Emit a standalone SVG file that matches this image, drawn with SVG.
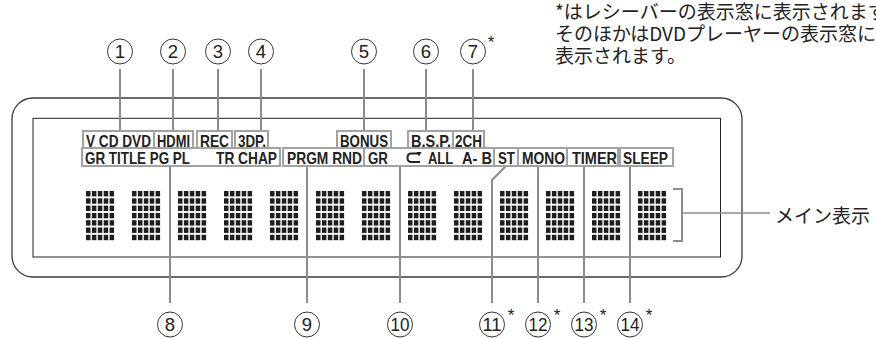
<svg xmlns="http://www.w3.org/2000/svg" xmlns:xlink="http://www.w3.org/1999/xlink" width="876" height="339" viewBox="0 0 876 339">
<style>
.frame{fill:none;stroke:#3a3a3a;stroke-width:1.3}
.inner{fill:none;stroke:#222;stroke-width:1}
.box{fill:#fff;stroke:#a2a2a2;stroke-width:2}
.lbl{font-family:"Liberation Sans",Arial,sans-serif;font-weight:bold;font-size:16.5px;fill:#222}
.lead{fill:none;stroke:#8c8c8c;stroke-width:2}
.circ{fill:#fff;stroke:#333;stroke-width:1}
.num{font-family:"Liberation Sans",Arial,sans-serif;font-size:18.5px;fill:#222;text-anchor:middle}
.ast{font-family:"Liberation Sans",Arial,sans-serif;font-size:17px;fill:#222;text-anchor:middle}
.jp{font-family:"Noto Sans CJK JP","Noto Sans",sans-serif;font-size:19px;fill:#222}
.dot{fill:#1e1e1e}
</style>
<defs>
<g id="dotrow">
<rect class="dot" x="0" y="0" width="4.5" height="5.4"/>
<rect class="dot" x="5.9" y="0" width="4.5" height="5.4"/>
<rect class="dot" x="11.8" y="0" width="4.5" height="5.4"/>
<rect class="dot" x="17.7" y="0" width="4.5" height="5.4"/>
<rect class="dot" x="23.6" y="0" width="4.5" height="5.4"/>
</g>
<g id="blk">
<use href="#dotrow" y="0"/>
<use href="#dotrow" y="7.3"/>
<use href="#dotrow" y="14.6"/>
<use href="#dotrow" y="21.9"/>
<use href="#dotrow" y="29.2"/>
<use href="#dotrow" y="36.5"/>
<use href="#dotrow" y="43.8"/>
</g>
</defs>

<g id="note">
<text class="jp" x="555" y="19">*はレシーバーの表示窓に表示されます。</text>
<text class="jp" x="555" y="41">そのほかはDVDプレーヤーの表示窓に</text>
<text class="jp" x="555" y="63">表示されます。</text>
</g>

<g id="display">
<rect class="frame" x="12" y="98" width="730" height="179" rx="21" ry="21"/>
<rect class="inner" x="33" y="118.3" width="687.5" height="138.7"/>
</g>

<g id="connectors">
<line class="lead" x1="120" y1="69" x2="120" y2="131"/>
<line class="lead" x1="173" y1="69" x2="173" y2="131"/>
<line class="lead" x1="218" y1="69" x2="218" y2="131"/>
<line class="lead" x1="261" y1="69" x2="261" y2="131"/>
<line class="lead" x1="364" y1="69" x2="364" y2="131"/>
<line class="lead" x1="426" y1="69" x2="426" y2="131"/>
<line class="lead" x1="473" y1="69" x2="473" y2="131"/>
<line class="lead" x1="170" y1="166" x2="170" y2="303"/>
<line class="lead" x1="307" y1="166" x2="307" y2="303"/>
<line class="lead" x1="400" y1="166" x2="400" y2="303"/>
<polyline class="lead" points="506,166 492,180 492,303"/>
<line class="lead" x1="538" y1="166" x2="538" y2="303"/>
<line class="lead" x1="584" y1="166" x2="584" y2="303"/>
<line class="lead" x1="630" y1="166" x2="630" y2="303"/>
<polyline class="lead" points="673,189 682,189 682,241 673,241"/>
<line class="lead" x1="682" y1="213" x2="770" y2="213" style="stroke-width:1.6"/>
</g>

<g id="ind-row1">
<g id="ind-vcd"><rect class="box" x="83" y="131" width="71" height="17"/><text class="lbl" x="86" y="146.5" textLength="65" lengthAdjust="spacingAndGlyphs">V CD DVD</text></g>
<g id="ind-hdmi"><rect class="box" x="154" y="131" width="39" height="17"/><text class="lbl" x="157" y="146.5" textLength="33" lengthAdjust="spacingAndGlyphs">HDMI</text></g>
<g id="ind-rec"><rect class="box" x="197" y="131" width="35" height="17"/><text class="lbl" x="200" y="146.5" textLength="29" lengthAdjust="spacingAndGlyphs">REC</text></g>
<g id="ind-3dp"><rect class="box" x="235" y="131" width="33" height="17"/><text class="lbl" x="238" y="146.5" textLength="28" lengthAdjust="spacingAndGlyphs">3DP.</text></g>
<g id="ind-bonus"><rect class="box" x="337" y="131" width="54" height="17"/><text class="lbl" x="340" y="146.5" textLength="48" lengthAdjust="spacingAndGlyphs">BONUS</text></g>
<g id="ind-bsp"><rect class="box" x="408" y="131" width="45" height="17"/><text class="lbl" x="411" y="146.5" textLength="40" lengthAdjust="spacingAndGlyphs">B.S.P.</text></g>
<g id="ind-2ch"><rect class="box" x="453" y="131" width="31" height="17"/><text class="lbl" x="455" y="146.5" textLength="27" lengthAdjust="spacingAndGlyphs">2CH</text></g>
</g>

<g id="ind-row2">
<g id="ind-title"><rect class="box" x="82" y="148" width="198" height="18"/><text class="lbl" x="85" y="164" textLength="105" lengthAdjust="spacingAndGlyphs">GR TITLE PG PL</text><text class="lbl" x="216" y="164" textLength="61" lengthAdjust="spacingAndGlyphs">TR CHAP</text></g>
<g id="ind-prgm"><rect class="box" x="283" y="148" width="81" height="18"/><text class="lbl" x="287" y="164" textLength="75" lengthAdjust="spacingAndGlyphs">PRGM RND</text></g>
<g id="ind-repeat"><rect class="box" x="364" y="148" width="130" height="18"/><text class="lbl" x="368" y="164" textLength="20" lengthAdjust="spacingAndGlyphs">GR</text>
<path d="M420,153.5 H411.5 Q407.5,153.5 407.5,157.8 Q407.5,162 411.5,162 H420" fill="none" stroke="#222" stroke-width="2"/>
<path d="M416.5,152 L421.5,152 L419,156.5 Z" fill="#222"/>
<text class="lbl" x="428" y="164" textLength="25" lengthAdjust="spacingAndGlyphs">ALL</text><text class="lbl" x="462" y="164" textLength="30" lengthAdjust="spacingAndGlyphs">A- B</text></g>
<g id="ind-st"><rect class="box" x="494" y="148" width="24" height="18"/><text class="lbl" x="498" y="164" textLength="17" lengthAdjust="spacingAndGlyphs">ST</text></g>
<g id="ind-mono"><rect class="box" x="518" y="148" width="49" height="18"/><text class="lbl" x="522" y="164" textLength="43" lengthAdjust="spacingAndGlyphs">MONO</text></g>
<g id="ind-timer"><rect class="box" x="567" y="148" width="51" height="18"/><text class="lbl" x="572" y="164" textLength="45" lengthAdjust="spacingAndGlyphs">TIMER</text></g>
<g id="ind-sleep"><rect class="box" x="620" y="148" width="53" height="18"/><text class="lbl" x="623" y="164" textLength="45" lengthAdjust="spacingAndGlyphs">SLEEP</text></g>
</g>

<g id="main-display">
<use href="#blk" x="86" y="191"/>
<use href="#blk" x="132" y="191"/>
<use href="#blk" x="178" y="191"/>
<use href="#blk" x="224" y="191"/>
<use href="#blk" x="270" y="191"/>
<use href="#blk" x="316" y="191"/>
<use href="#blk" x="362" y="191"/>
<use href="#blk" x="408" y="191"/>
<use href="#blk" x="454" y="191"/>
<use href="#blk" x="500" y="191"/>
<use href="#blk" x="546" y="191"/>
<use href="#blk" x="592" y="191"/>
<use href="#blk" x="638" y="191"/>
</g>
<g id="main-label"><text class="jp" x="775" y="223">メイン表示</text></g>

<g id="c1"><circle class="circ" cx="120" cy="51.5" r="12.5"/><text class="num" x="120" y="58">1</text></g>
<g id="c2"><circle class="circ" cx="173" cy="51.5" r="12.5"/><text class="num" x="173" y="58">2</text></g>
<g id="c3"><circle class="circ" cx="218" cy="51.5" r="12.5"/><text class="num" x="218" y="58">3</text></g>
<g id="c4"><circle class="circ" cx="261" cy="51.5" r="12.5"/><text class="num" x="261" y="58">4</text></g>
<g id="c5"><circle class="circ" cx="364" cy="51.5" r="12.5"/><text class="num" x="364" y="58">5</text></g>
<g id="c6"><circle class="circ" cx="426" cy="51.5" r="12.5"/><text class="num" x="426" y="58">6</text></g>
<g id="c7"><circle class="circ" cx="473" cy="51.5" r="12.5"/><text class="num" x="473" y="58">7</text><text class="ast" x="491" y="48">*</text></g>
<g id="c8"><circle class="circ" cx="170" cy="324.5" r="12.5"/><text class="num" x="170" y="331">8</text></g>
<g id="c9"><circle class="circ" cx="307" cy="324.5" r="12.5"/><text class="num" x="307" y="331">9</text></g>
<g id="c10"><circle class="circ" cx="400" cy="324.5" r="12.5"/><text class="num" x="400" y="331" textLength="19" lengthAdjust="spacingAndGlyphs">10</text></g>
<g id="c11"><circle class="circ" cx="492" cy="324.5" r="12.5"/><text class="num" x="492" y="331" textLength="19" lengthAdjust="spacingAndGlyphs">11</text><text class="ast" x="511" y="321">*</text></g>
<g id="c12"><circle class="circ" cx="538" cy="324.5" r="12.5"/><text class="num" x="538" y="331" textLength="19" lengthAdjust="spacingAndGlyphs">12</text><text class="ast" x="557" y="321">*</text></g>
<g id="c13"><circle class="circ" cx="584" cy="324.5" r="12.5"/><text class="num" x="584" y="331" textLength="19" lengthAdjust="spacingAndGlyphs">13</text><text class="ast" x="603" y="321">*</text></g>
<g id="c14"><circle class="circ" cx="630" cy="324.5" r="12.5"/><text class="num" x="630" y="331" textLength="19" lengthAdjust="spacingAndGlyphs">14</text><text class="ast" x="649" y="321">*</text></g>
</svg>
